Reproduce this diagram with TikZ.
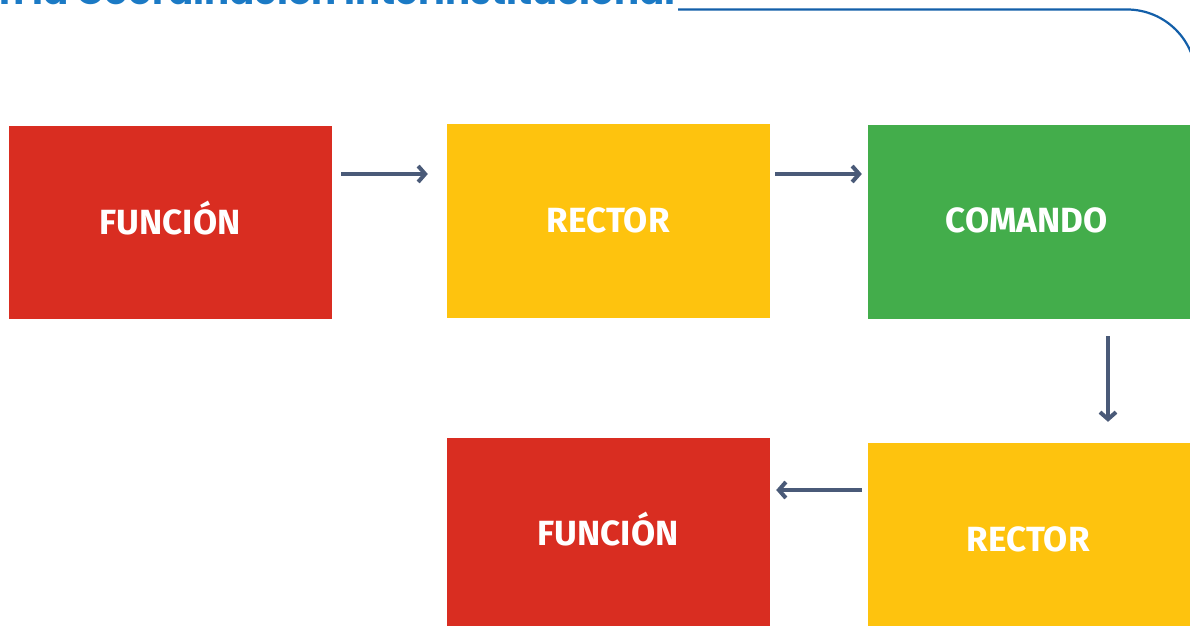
\documentclass[tikz,border=0pt]{standalone}
\usepackage{fontspec}
\setmainfont{Fira Sans}
\newfontfamily\titlefont{Poppins}
\usetikzlibrary{arrows.meta}
\definecolor{cred}{HTML}{D92D21}
\definecolor{cyellow}{HTML}{FEC30E}
\definecolor{cgreen}{HTML}{43AD4B}
\definecolor{carrow}{HTML}{4A5A78}
\definecolor{ctitle}{HTML}{1B7AC5}
\definecolor{cline}{HTML}{135FA9}
\tikzset{
  blk/.style={draw=none,minimum width=323pt,inner sep=0pt},
  lbl/.style={anchor=base,inner sep=0pt,text=white,font=\bfseries\fontsize{35}{40}\selectfont},
  arr/.style={draw=carrow,line width=4pt,-{Straight Barb[length=7pt,width=16pt,line width=4pt]}}
}
\begin{document}
\begin{tikzpicture}[x=1pt,y=-1pt]
\useasboundingbox (0,0) rectangle (1190,626);
\clip (0,0) rectangle (1190,626);
\node[blk,fill=cred,minimum height=193pt] (f1) at (170.5,222.5) {};
\node[blk,fill=cyellow,minimum height=194pt] (r1) at (608.5,221) {};
\node[blk,fill=cgreen,minimum height=194pt] (c) at (1029.5,222) {};
\node[blk,fill=cyellow,minimum height=183pt] (r2) at (1029.5,534.5) {};
\node[blk,fill=cred,minimum height=188pt] (f2) at (608.5,532) {};
\node[lbl] (f1t) at (170,234) {FUNCIÓN};
\node[lbl] (r1t) at (608.3,232.3) {RECTOR};
\node[lbl] (ct) at (1026.7,232.3) {COMANDO};
\node[lbl] (f2t) at (608,545.7) {FUNCIÓN};
\node[lbl] (r2t) at (1028.3,551) {RECTOR};
\draw[arr] ([xshift=9pt,yshift=48.5pt]f1.east) -- ([xshift=-19pt,yshift=47pt]r1.west);
\draw[arr] ([xshift=5pt,yshift=47pt]r1.east) -- ([xshift=-6pt,yshift=48pt]c.west);
\draw[arr] ([xshift=78.5pt,yshift=-17pt]c.south) -- ([xshift=78.5pt,yshift=21pt]r2.north);
\draw[arr] ([xshift=-6pt,yshift=44.5pt]r2.west) -- ([xshift=6pt,yshift=42pt]f2.east);
\node[anchor=base east,inner sep=0pt,text=ctitle,font=\titlefont\bfseries] (t) at (676,4.5)
  {\resizebox{676pt}{!}{n la Coordinación Interinstitucional}};
\coordinate (lc) at (1196,9.5);
\draw[cline,line width=2.2pt,rounded corners=69pt] (t.base east) ++(2,5) -- (lc) -- (1196,200);
\end{tikzpicture}
\end{document}
